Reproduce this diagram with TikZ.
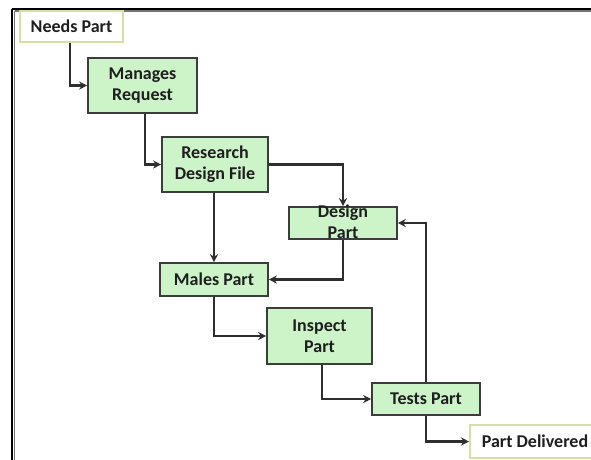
\documentclass[tikz,border=0pt]{standalone}
\usepackage{fontspec}
\setmainfont{Carlito}
\usetikzlibrary{arrows.meta}
\definecolor{boxfill}{HTML}{CDF3C9}
\definecolor{boxline}{HTML}{3C3C3C}
\definecolor{endline}{HTML}{D6DFA6}
\definecolor{txt}{HTML}{1E1E1E}
\definecolor{conn}{HTML}{2E2E2E}
\tikzset{
  stepbox/.style={draw=boxline, fill=boxfill, line width=1.6pt, inner sep=0pt,
    align=center, text=txt, font=\bfseries\fontsize{18}{21}\selectfont},
  endbox/.style={draw=endline, fill=white, line width=2pt, inner sep=0pt,
    align=center, text=txt, font=\bfseries\fontsize{18}{21}\selectfont},
  flow/.style={draw=conn, line width=2.4pt, -{Stealth[length=8pt,width=8pt]}}
}
\begin{document}
\begin{tikzpicture}[x=1pt,y=-1pt]
\useasboundingbox (0,0) rectangle (591,459);
\fill[white] (0,0) rectangle (591,459);
% frame
\draw[black!55, line width=1.5pt] (14.5,11) -- (600,11);
\draw[black!55, line width=1.5pt] (14.5,11) -- (14.5,470);
\draw[black, line width=2.5pt] (12,9) -- (600,9);
\draw[black, line width=2.5pt] (12,9) -- (12,470);
% nodes
\node[endbox, minimum width=103pt, minimum height=31pt] (needs) at (71.5,26) {Needs Part};
\node[stepbox, minimum width=109pt, minimum height=55pt] (manages) at (142.5,85.5) {Manages\\Request};
\node[stepbox, minimum width=106pt, minimum height=55pt] (research) at (215,164.5) {Research\\Design File};
\node[stepbox, minimum width=108pt, minimum height=32pt] (design) at (343,223)
  {\raisebox{-10pt}{\smash{\begin{tabular}{@{}c@{}}Design\\Part\end{tabular}}}};
\node[stepbox, minimum width=108pt, minimum height=33pt] (males) at (214,279.5) {Males Part};
\node[stepbox, minimum width=105pt, minimum height=56pt] (inspect) at (319.5,336) {Inspect\\Part};
\node[stepbox, minimum width=108pt, minimum height=32pt] (tests) at (426,399) {Tests Part};
\node[endbox, minimum width=124pt, minimum height=33pt, anchor=west] (delivered) at (469,441.5) {\hspace*{6pt}Part Delivered};
% connectors
\draw[flow] ([xshift=-1.5pt]needs.south) |- (manages.west);
\draw[flow] ([xshift=2.5pt]manages.south) |- (research.west);
\draw[flow] (research.east) -| (design.north);
\draw[flow] ([xshift=-1pt]research.south) -- ([xshift=-1pt]research.south |- males.north);
\draw[flow] (design.south) |- (males.east);
\draw[flow] (males.south) |- (inspect.west);
\draw[flow] ([xshift=2.5pt]inspect.south) |- (tests.west);
\draw[flow] (tests.north) |- (design.east);
\draw[flow] (tests.south) |- (delivered.west);
\end{tikzpicture}
\end{document}
